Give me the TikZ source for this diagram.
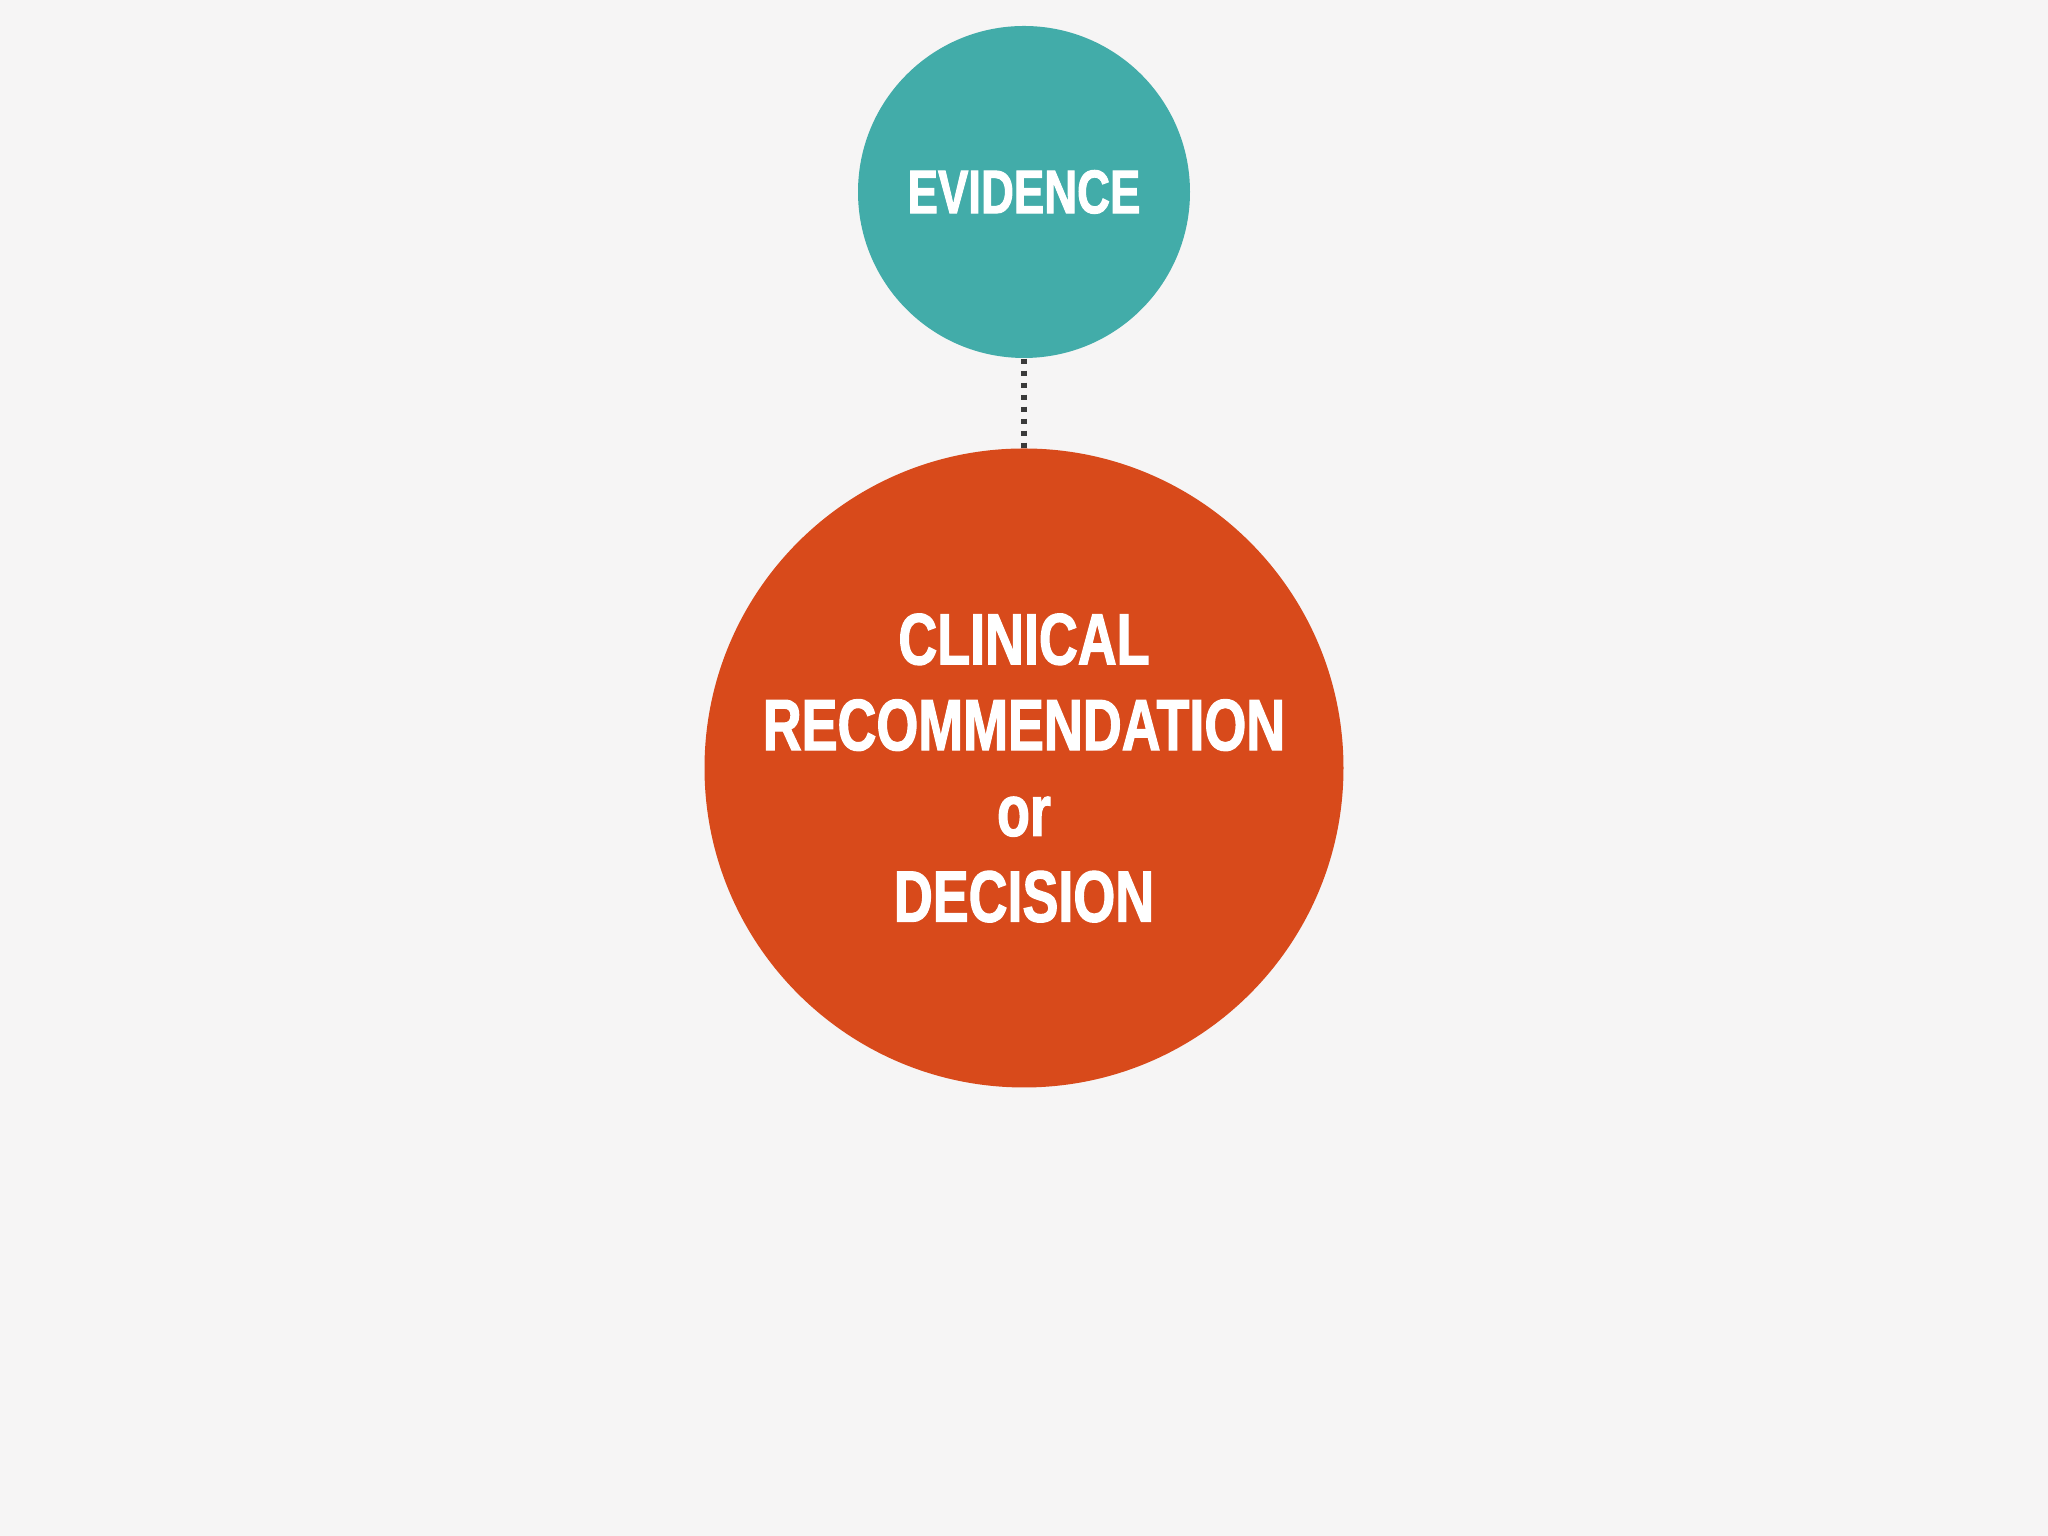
\documentclass[tikz,border=0pt]{standalone}
\usepackage{fontspec}
\setmainfont{Liberation Sans}
\newfontfamily\cond{Liberation Sans}[UprightFont=* Bold, FakeStretch=0.74, FakeBold=1.6]
\definecolor{bgc}{RGB}{246,245,245}
\definecolor{tealc}{RGB}{66,172,169}
\definecolor{orangec}{RGB}{216,74,27}
\definecolor{dotc}{RGB}{58,58,58}
\tikzset{
  bubble/.style={circle, inner sep=0pt, text=white, align=center},
  link/.style={draw=dotc, line width=0.06cm, dash pattern=on 0.05cm off 0.07cm}
}
\begin{document}
\begin{tikzpicture}
\fill[bgc] (0,0) rectangle (20.48,15.36);
\useasboundingbox (0,0) rectangle (20.48,15.36);
\node[bubble, fill=tealc, minimum size=3.32cm, font={\cond\fontsize{17.5}{20}\selectfont}] (ev) at (10.24,13.44) {EVIDENCE};
\node[bubble, fill=orangec, minimum size=6.39cm, font={\cond\fontsize{20.7}{24.4}\selectfont}] (dec) at (10.24,7.68) {CLINICAL\\RECOMMENDATION\\or\\DECISION};
\draw[link] (ev.south) -- (dec.north);
\end{tikzpicture}
\end{document}
